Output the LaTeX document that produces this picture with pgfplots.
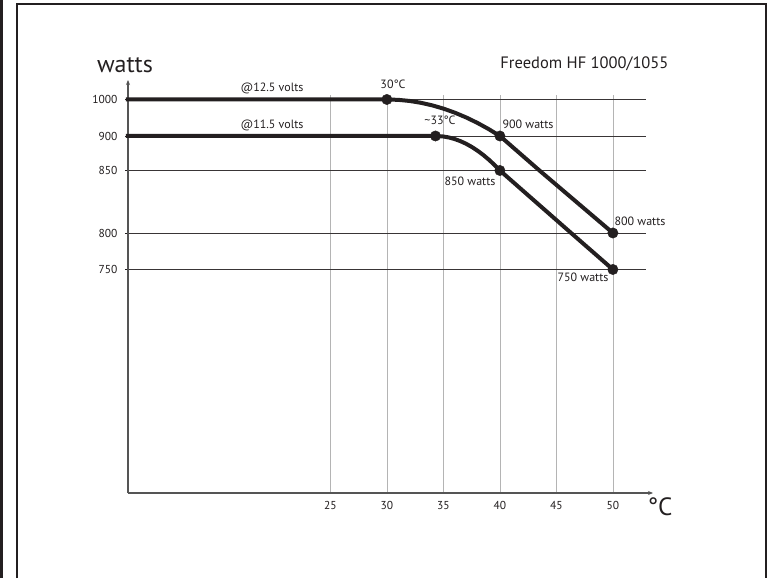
\documentclass[border=0pt]{standalone}
\usepackage{fontspec}
\setmainfont{PT Sans}
\usepackage{pgfplots}
\pgfplotsset{compat=1.18}
\usetikzlibrary{arrows.meta}

\definecolor{ink}{HTML}{231F20}
\definecolor{axisgray}{HTML}{555555}
\definecolor{vgrid}{HTML}{B4B4B4}

\begin{document}
\begin{tikzpicture}[x=1pt,y=1pt]
\useasboundingbox (0,0) rectangle (767,578);

\begin{axis}[
    at={(128pt,85pt)}, anchor=south west,
    scale only axis, width=518pt, height=398pt,
    xmin=7.09, xmax=52.93,
    ymin=0, ymax=1012.3,
    % the watts axis is not linear: each band between ticks has its own scale
    y coord trafo/.code={\pgfmathparse{ifthenelse(#1>=900, 357+(#1-900)*0.365,
        ifthenelse(#1>=850, 322.5+(#1-850)*0.69,
        ifthenelse(#1>=800, 260+(#1-800)*1.25,
        ifthenelse(#1>=750, 223.5+(#1-750)*0.73, #1*0.298))))}},
    axis lines=left,
    axis line style={axisgray, line width=1.2pt},
    x axis line style={shorten >=-7pt, -{Stealth[length=5pt,width=4pt]}},
    y axis line style={shorten >=-15pt, -{Stealth[length=5pt,width=4pt]}},
    xtick={25,30,35,40,45,50},
    ytick={750,800,850,900,1000},
    yticklabels={750,800,850,900,1000},
    xmajorgrids, ymajorgrids,
    x grid style={vgrid, line width=0.7pt},
    y grid style={ink!90, line width=0.9pt},
    tick align=outside, major tick length=3pt,
    xtick style={draw=none},
    ytick style={ink, line width=0.9pt},
    /pgf/number format/assume math mode=true,
    ticklabel style={font=\fontsize{11.5}{13}\selectfont, text=ink},
    yticklabel style={xshift=-4pt},
    xticklabel style={yshift=-2pt},
    clip=false,
]
% @12.5 volts
\addplot[ink, line width=4pt, line join=round]
    coordinates {(6.9,1000) (30,1000) (31,999) (32,996) (33,991) (34,984) (35,975)
                 (36,964) (37,951) (38,936) (39,919) (40,900) (43.5,850) (50,800)};
% @11.5 volts
\addplot[ink, line width=4pt, line join=round]
    coordinates {(6.9,900) (34.3,900) (35,899.25) (35.5,897.8) (36,895.55) (36.5,892.55)
                 (37,888.8) (37.5,884.25) (38,878.9) (38.5,872.85) (39,866) (39.5,858.4)
                 (40,850) (46.3,800) (50,750)};
\addplot[only marks, mark=*, mark size=5.2pt, ink]
    coordinates {(30,1000) (40,900) (50,800)};
\addplot[only marks, mark=*, mark size=5.2pt, ink]
    coordinates {(34.3,900) (40,850) (50,750)};
\end{axis}

% titles and annotations
\node[anchor=base, text=ink, font=\fontsize{24}{28}\selectfont] at (125,505) {watts};
\node[anchor=base east, text=ink, font=\fontsize{16.5}{19}\selectfont] at (672,509) {Freedom HF 1000/1055};
\node[anchor=center, text=ink, font=\fontsize{25}{28}\selectfont] at (660,71) {°C};

\begin{scope}[every node/.style={anchor=base, text=ink, inner sep=0pt, font=\fontsize{12}{14}\selectfont}]
\node at (272,486.3) {@12.5 volts};
\node at (272,449.7) {@11.5 volts};
\node at (393,489) {30°C};
\node at (440,453) {\textasciitilde33°C};
\node at (528,449) {900 watts};
\node at (470,392.3) {850 watts};
\node at (640,352) {800 watts};
\node at (583,296) {750 watts};
\end{scope}

% frame of the picture
\draw[ink, line width=2.5pt] (1.25,0) -- (1.25,578);
\draw[ink, line width=2pt] (17,0) -- (17,574) -- (766,574) -- (766,0);
\end{tikzpicture}
\end{document}
